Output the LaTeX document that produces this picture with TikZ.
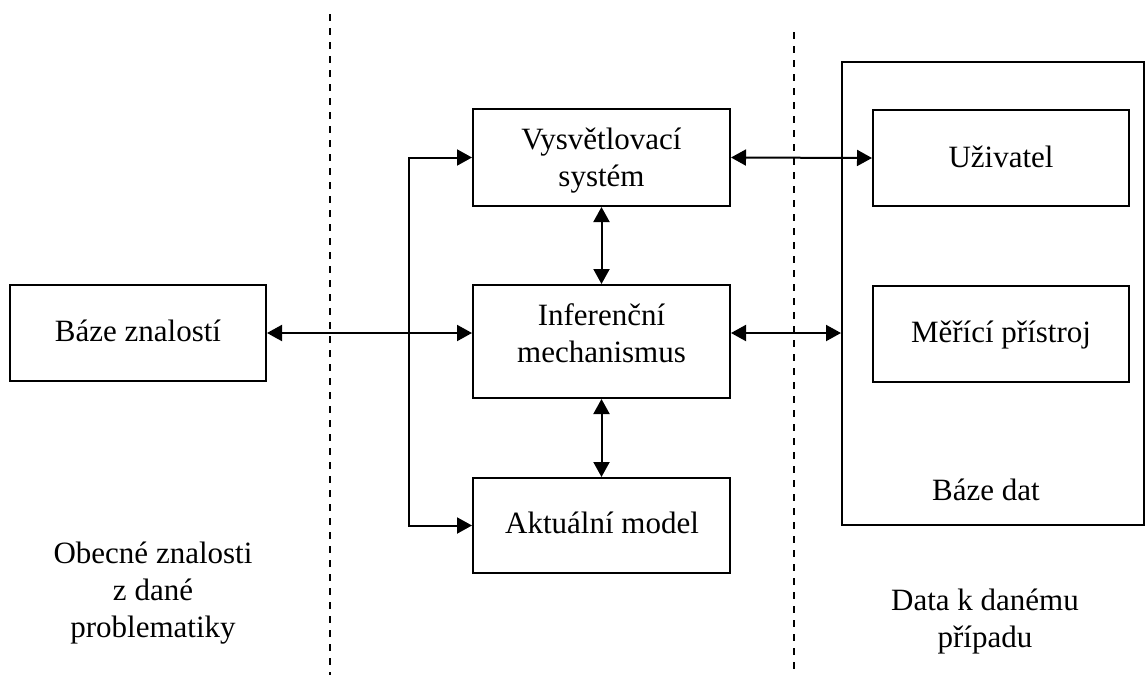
\documentclass[tikz,border=0pt]{standalone}
\usepackage{fontspec}
\setmainfont{Liberation Serif}
\usetikzlibrary{arrows.meta,calc}
\begin{document}
\begin{tikzpicture}[x=1pt,y=-1pt,
  box/.style={draw,line width=2pt,inner sep=0pt},
  lbl/.style={font=\fontsize{31}{37}\selectfont,inner sep=0pt,align=center},
  link/.style={line width=2pt,{Triangle[length=15pt,width=16pt]}-{Triangle[length=15pt,width=16pt]}},
  divider/.style={line width=2pt,dash pattern=on 7pt off 7pt}]
\useasboundingbox (0,0) rectangle (1146,675);

% separating dashed lines
\draw[divider] (330,14) -- (330,675);
\draw[divider] (794,32) -- (794,675);

% boxes
\node[box,minimum width=256pt,minimum height=96pt] (bz) at (138,333) {};
\node[box,minimum width=257pt,minimum height=97pt] (vs) at (601.5,157.5) {};
\node[box,minimum width=257pt,minimum height=113pt] (inf) at (601.5,341.5) {};
\node[box,minimum width=257pt,minimum height=95pt] (ak) at (601.5,525.5) {};
\node[box,minimum width=302pt,minimum height=463pt] (db) at (993,293.5) {};
\node[box,minimum width=256pt,minimum height=96pt] (uz) at (1001,158) {};
\node[box,minimum width=256pt,minimum height=96pt] (mp) at (1001,333.5) {};

% box texts
\node[lbl,anchor=base] (bzt) at (138,341.7) {Báze znalostí};
\node[lbl] (vst) at (601.5,160.5) {Vysvětlovací\\systém};
\node[lbl] (inft) at (601.5,333) {Inferenční\\mechanismus};
\node[lbl,anchor=base] (akt) at (602,533) {Aktuální model};
\node[lbl,anchor=base] (uzt) at (1001,167) {Uživatel};
\node[lbl,anchor=base] (mpt) at (1001,342) {Měřící přístroj};
\node[lbl,anchor=base] (dbt) at (986,500) {Báze dat};

% column captions
\node[lbl] (obt) at (153,593) {Obecné znalosti\\z dané\\problematiky};
\node[lbl] (dkt) at (985,622) {Data k danému\\případu};

% connectors
\draw[link] (bz.east) -- (bz.east -| inf.west);
\draw[link] (bz.east -| inf.east) -- (bz.east -| db.west);
\draw[link] (vs.east) -- (uz.west);
\draw[link] (vs.south) -- (inf.north);
\draw[link] (inf.south) -- (ak.north);
\draw[link] (vs.west) -- ++(-63,0) |- (ak.west);
\end{tikzpicture}
\end{document}
